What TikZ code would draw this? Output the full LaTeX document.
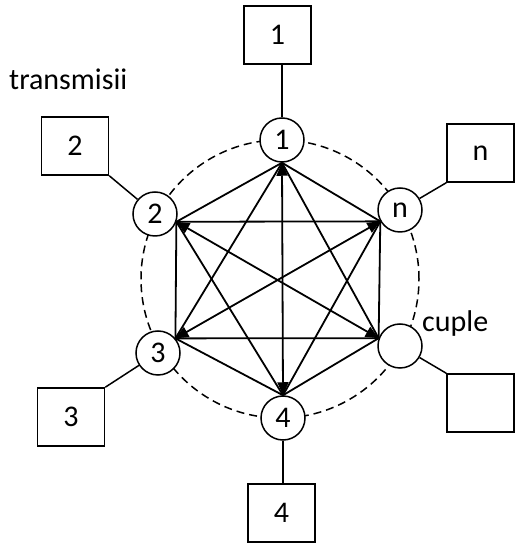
\documentclass[tikz,border=0pt]{standalone}
\usepackage{fontspec}
\setmainfont{Carlito}
\usetikzlibrary{arrows.meta}
\begin{document}
\begin{tikzpicture}[x=1pt,y=1pt,
  every node/.style={font=\fontsize{30}{34}\selectfont},
  vert/.style={circle,draw,line width=1.5pt,minimum size=44pt,inner sep=0pt,fill=white},
  tbox/.style={draw,line width=1.5pt,minimum width=67pt,minimum height=58pt,inner sep=0pt},
  edge/.style={line width=1.8pt},
  dbl/.style={line width=1.8pt,{Triangle[length=13pt,width=11pt]}-{Triangle[length=13pt,width=11pt]}},
  link/.style={line width=1.5pt},
  ring/.style={line width=1.5pt,dash pattern=on 8pt off 5pt},
]
\useasboundingbox (0,0) rectangle (518,546);
\draw[ring] (280,267) circle[radius=139pt];
% circles
\node[vert] (c1) at (282,406) {1};
\node[vert] (cn) at (400,336) {n};
\node[vert] (cc) at (400,200) {};
\node[vert] (c2) at (155,332) {2};
\node[vert] (c3) at (158,193) {3};
\node[vert] (c4) at (283,128) {4};
% boxes
\node[tbox] (b1) at (277.5,511) {1\hspace{10pt}};
\node[tbox] (b2) at (75,400) {2\hspace{10pt}};
\node[tbox] (bn) at (480.5,393) {n\hspace{8pt}};
\node[tbox] (bc) at (480.5,143) {};
\node[tbox] (b3) at (71,129) {3\hspace{12pt}};
\node[tbox] (b4) at (281.5,33) {4\hspace{10pt}};
% labels
\node[anchor=base west,inner sep=0pt] (tr) at (9,456) {transmisii};
\node[anchor=base west,inner sep=0pt] (cu) at (422,214) {cuple};
% box links
\draw[link] (c1.north) -- (c1.north |- b1.south);
\draw[link] (b2.south east) -- (c2);
\draw[link] (bn.south west) -- (cn);
\draw[link] (bc.north west) -- (cc);
\draw[link] (b3.north east) -- (c3);
\draw[link] (c4.south) -- (c4.south |- b4.north);
% graph vertices
\coordinate (v1) at (c1.south);
\coordinate (v4) at (c4.north);
\coordinate (v2) at (c2.-20);
\coordinate (vn) at (cn.210);
\coordinate (vc) at (cc.160);
\coordinate (v3) at (c3.40);
% edges
\draw[edge] (v1) -- (v2);
\draw[edge] (v1) -- (vn);
\draw[edge] (v1) -- (v3);
\draw[edge] (v1) -- (vc);
\draw[edge] (v2) -- (vn);
\draw[edge] (v2) -- (v3);
\draw[edge] (v2) -- (v4);
\draw[edge] (vn) -- (vc);
\draw[edge] (vn) -- (v4);
\draw[edge] (v3) -- (vc);
\draw[edge] (v3) -- (v4);
\draw[edge] (vc) -- (v4);
\draw[dbl] (v1) -- (v4);
\draw[dbl] (v2) -- (vc);
\draw[dbl] (vn) -- (v3);
\end{tikzpicture}
\end{document}
